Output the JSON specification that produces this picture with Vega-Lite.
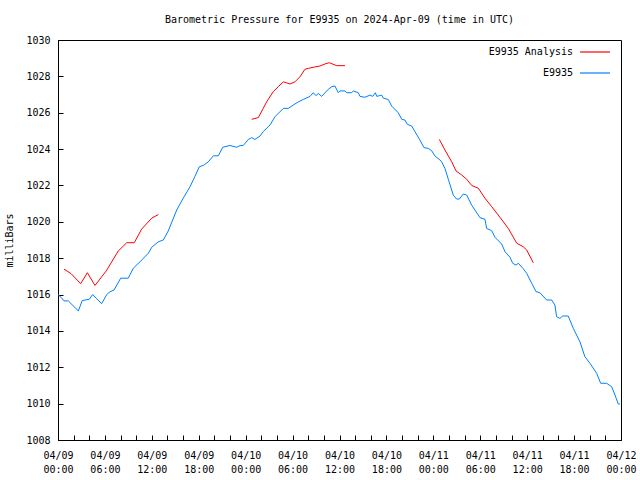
{
  "$schema": "https://vega.github.io/schema/vega-lite/v6.json",
  "autosize": {"type": "none"},
  "width": 563,
  "height": 400,
  "padding": {"left": 58, "top": 40, "right": 19, "bottom": 40},
  "background": "white",
  "config": {
    "font": "DejaVu Sans Mono",
    "view": {"stroke": "black", "strokeWidth": 1},
    "axis": {"labelFont": "DejaVu Sans Mono", "labelFontSize": 10, "labelColor": "black", "titleFont": "DejaVu Sans Mono", "titleFontSize": 10, "titleFontWeight": "normal", "titleColor": "black", "tickColor": "black", "domainColor": "black", "grid": false}
  },
  "title": {"text": "Barometric Pressure for E9935 on 2024-Apr-09 (time in UTC)", "font": "DejaVu Sans Mono", "fontSize": 10, "fontWeight": "normal", "color": "black", "anchor": "middle", "offset": 10},
  "data": {"values": [
    {"t": "2024-04-09T00:46:00Z", "p": 1017.4, "s": "E9935 Analysis", "g": "a1"},
    {"t": "2024-04-09T01:40:00Z", "p": 1017.15, "s": "E9935 Analysis", "g": "a1"},
    {"t": "2024-04-09T02:54:00Z", "p": 1016.6, "s": "E9935 Analysis", "g": "a1"},
    {"t": "2024-04-09T03:45:00Z", "p": 1017.2, "s": "E9935 Analysis", "g": "a1"},
    {"t": "2024-04-09T04:44:00Z", "p": 1016.5, "s": "E9935 Analysis", "g": "a1"},
    {"t": "2024-04-09T06:10:00Z", "p": 1017.3, "s": "E9935 Analysis", "g": "a1"},
    {"t": "2024-04-09T07:43:00Z", "p": 1018.4, "s": "E9935 Analysis", "g": "a1"},
    {"t": "2024-04-09T08:47:00Z", "p": 1018.85, "s": "E9935 Analysis", "g": "a1"},
    {"t": "2024-04-09T09:45:00Z", "p": 1018.85, "s": "E9935 Analysis", "g": "a1"},
    {"t": "2024-04-09T10:42:00Z", "p": 1019.6, "s": "E9935 Analysis", "g": "a1"},
    {"t": "2024-04-09T11:59:00Z", "p": 1020.2, "s": "E9935 Analysis", "g": "a1"},
    {"t": "2024-04-09T12:50:00Z", "p": 1020.4, "s": "E9935 Analysis", "g": "a1"},
    {"t": "2024-04-10T00:46:00Z", "p": 1025.64, "s": "E9935 Analysis", "g": "a2"},
    {"t": "2024-04-10T01:37:00Z", "p": 1025.73, "s": "E9935 Analysis", "g": "a2"},
    {"t": "2024-04-10T02:15:00Z", "p": 1026.24, "s": "E9935 Analysis", "g": "a2"},
    {"t": "2024-04-10T02:41:00Z", "p": 1026.6, "s": "E9935 Analysis", "g": "a2"},
    {"t": "2024-04-10T03:32:00Z", "p": 1027.16, "s": "E9935 Analysis", "g": "a2"},
    {"t": "2024-04-10T04:10:00Z", "p": 1027.43, "s": "E9935 Analysis", "g": "a2"},
    {"t": "2024-04-10T04:49:00Z", "p": 1027.7, "s": "E9935 Analysis", "g": "a2"},
    {"t": "2024-04-10T05:40:00Z", "p": 1027.58, "s": "E9935 Analysis", "g": "a2"},
    {"t": "2024-04-10T06:18:00Z", "p": 1027.7, "s": "E9935 Analysis", "g": "a2"},
    {"t": "2024-04-10T06:57:00Z", "p": 1027.98, "s": "E9935 Analysis", "g": "a2"},
    {"t": "2024-04-10T07:35:00Z", "p": 1028.39, "s": "E9935 Analysis", "g": "a2"},
    {"t": "2024-04-10T08:01:00Z", "p": 1028.44, "s": "E9935 Analysis", "g": "a2"},
    {"t": "2024-04-10T08:39:00Z", "p": 1028.5, "s": "E9935 Analysis", "g": "a2"},
    {"t": "2024-04-10T09:30:00Z", "p": 1028.57, "s": "E9935 Analysis", "g": "a2"},
    {"t": "2024-04-10T10:08:00Z", "p": 1028.68, "s": "E9935 Analysis", "g": "a2"},
    {"t": "2024-04-10T10:41:00Z", "p": 1028.75, "s": "E9935 Analysis", "g": "a2"},
    {"t": "2024-04-10T11:38:00Z", "p": 1028.59, "s": "E9935 Analysis", "g": "a2"},
    {"t": "2024-04-10T12:42:00Z", "p": 1028.59, "s": "E9935 Analysis", "g": "a2"},
    {"t": "2024-04-11T00:46:00Z", "p": 1024.53, "s": "E9935 Analysis", "g": "a3"},
    {"t": "2024-04-11T01:29:00Z", "p": 1023.95, "s": "E9935 Analysis", "g": "a3"},
    {"t": "2024-04-11T02:21:00Z", "p": 1023.3, "s": "E9935 Analysis", "g": "a3"},
    {"t": "2024-04-11T02:54:00Z", "p": 1022.8, "s": "E9935 Analysis", "g": "a3"},
    {"t": "2024-04-11T03:37:00Z", "p": 1022.58, "s": "E9935 Analysis", "g": "a3"},
    {"t": "2024-04-11T04:16:00Z", "p": 1022.34, "s": "E9935 Analysis", "g": "a3"},
    {"t": "2024-04-11T04:54:00Z", "p": 1022.0, "s": "E9935 Analysis", "g": "a3"},
    {"t": "2024-04-11T05:45:00Z", "p": 1021.85, "s": "E9935 Analysis", "g": "a3"},
    {"t": "2024-04-11T06:36:00Z", "p": 1021.3, "s": "E9935 Analysis", "g": "a3"},
    {"t": "2024-04-11T07:28:00Z", "p": 1020.83, "s": "E9935 Analysis", "g": "a3"},
    {"t": "2024-04-11T08:31:00Z", "p": 1020.25, "s": "E9935 Analysis", "g": "a3"},
    {"t": "2024-04-11T09:35:00Z", "p": 1019.64, "s": "E9935 Analysis", "g": "a3"},
    {"t": "2024-04-11T10:40:00Z", "p": 1018.82, "s": "E9935 Analysis", "g": "a3"},
    {"t": "2024-04-11T11:30:00Z", "p": 1018.63, "s": "E9935 Analysis", "g": "a3"},
    {"t": "2024-04-11T11:56:00Z", "p": 1018.45, "s": "E9935 Analysis", "g": "a3"},
    {"t": "2024-04-11T12:47:00Z", "p": 1017.75, "s": "E9935 Analysis", "g": "a3"},
    {"t": "2024-04-09T00:00:00Z", "p": 1016.0, "s": "E9935", "g": "b"},
    {"t": "2024-04-09T00:23:00Z", "p": 1015.85, "s": "E9935", "g": "b"},
    {"t": "2024-04-09T00:46:00Z", "p": 1015.65, "s": "E9935", "g": "b"},
    {"t": "2024-04-09T01:19:00Z", "p": 1015.65, "s": "E9935", "g": "b"},
    {"t": "2024-04-09T02:36:00Z", "p": 1015.1, "s": "E9935", "g": "b"},
    {"t": "2024-04-09T03:06:00Z", "p": 1015.67, "s": "E9935", "g": "b"},
    {"t": "2024-04-09T04:00:00Z", "p": 1015.74, "s": "E9935", "g": "b"},
    {"t": "2024-04-09T04:26:00Z", "p": 1016.0, "s": "E9935", "g": "b"},
    {"t": "2024-04-09T04:52:00Z", "p": 1015.8, "s": "E9935", "g": "b"},
    {"t": "2024-04-09T05:35:00Z", "p": 1015.5, "s": "E9935", "g": "b"},
    {"t": "2024-04-09T06:14:00Z", "p": 1016.0, "s": "E9935", "g": "b"},
    {"t": "2024-04-09T06:39:00Z", "p": 1016.15, "s": "E9935", "g": "b"},
    {"t": "2024-04-09T07:10:00Z", "p": 1016.25, "s": "E9935", "g": "b"},
    {"t": "2024-04-09T08:01:00Z", "p": 1016.9, "s": "E9935", "g": "b"},
    {"t": "2024-04-09T08:59:00Z", "p": 1016.9, "s": "E9935", "g": "b"},
    {"t": "2024-04-09T09:38:00Z", "p": 1017.45, "s": "E9935", "g": "b"},
    {"t": "2024-04-09T10:29:00Z", "p": 1017.8, "s": "E9935", "g": "b"},
    {"t": "2024-04-09T11:33:00Z", "p": 1018.27, "s": "E9935", "g": "b"},
    {"t": "2024-04-09T11:59:00Z", "p": 1018.6, "s": "E9935", "g": "b"},
    {"t": "2024-04-09T12:50:00Z", "p": 1018.9, "s": "E9935", "g": "b"},
    {"t": "2024-04-09T13:28:00Z", "p": 1019.0, "s": "E9935", "g": "b"},
    {"t": "2024-04-09T14:06:00Z", "p": 1019.5, "s": "E9935", "g": "b"},
    {"t": "2024-04-09T15:11:00Z", "p": 1020.65, "s": "E9935", "g": "b"},
    {"t": "2024-04-09T16:01:00Z", "p": 1021.3, "s": "E9935", "g": "b"},
    {"t": "2024-04-09T16:53:00Z", "p": 1021.93, "s": "E9935", "g": "b"},
    {"t": "2024-04-09T17:31:00Z", "p": 1022.5, "s": "E9935", "g": "b"},
    {"t": "2024-04-09T18:04:00Z", "p": 1023.03, "s": "E9935", "g": "b"},
    {"t": "2024-04-09T18:35:00Z", "p": 1023.1, "s": "E9935", "g": "b"},
    {"t": "2024-04-09T19:13:00Z", "p": 1023.3, "s": "E9935", "g": "b"},
    {"t": "2024-04-09T19:52:00Z", "p": 1023.63, "s": "E9935", "g": "b"},
    {"t": "2024-04-09T20:30:00Z", "p": 1023.63, "s": "E9935", "g": "b"},
    {"t": "2024-04-09T21:04:00Z", "p": 1024.1, "s": "E9935", "g": "b"},
    {"t": "2024-04-09T22:00:00Z", "p": 1024.2, "s": "E9935", "g": "b"},
    {"t": "2024-04-09T22:51:00Z", "p": 1024.1, "s": "E9935", "g": "b"},
    {"t": "2024-04-09T23:16:00Z", "p": 1024.19, "s": "E9935", "g": "b"},
    {"t": "2024-04-09T23:42:00Z", "p": 1024.2, "s": "E9935", "g": "b"},
    {"t": "2024-04-10T00:20:00Z", "p": 1024.53, "s": "E9935", "g": "b"},
    {"t": "2024-04-10T00:46:00Z", "p": 1024.63, "s": "E9935", "g": "b"},
    {"t": "2024-04-10T01:11:00Z", "p": 1024.53, "s": "E9935", "g": "b"},
    {"t": "2024-04-10T01:50:00Z", "p": 1024.72, "s": "E9935", "g": "b"},
    {"t": "2024-04-10T02:15:00Z", "p": 1024.96, "s": "E9935", "g": "b"},
    {"t": "2024-04-10T03:07:00Z", "p": 1025.33, "s": "E9935", "g": "b"},
    {"t": "2024-04-10T03:45:00Z", "p": 1025.78, "s": "E9935", "g": "b"},
    {"t": "2024-04-10T04:49:00Z", "p": 1026.24, "s": "E9935", "g": "b"},
    {"t": "2024-04-10T05:27:00Z", "p": 1026.24, "s": "E9935", "g": "b"},
    {"t": "2024-04-10T06:05:00Z", "p": 1026.42, "s": "E9935", "g": "b"},
    {"t": "2024-04-10T06:44:00Z", "p": 1026.6, "s": "E9935", "g": "b"},
    {"t": "2024-04-10T07:22:00Z", "p": 1026.73, "s": "E9935", "g": "b"},
    {"t": "2024-04-10T08:14:00Z", "p": 1026.9, "s": "E9935", "g": "b"},
    {"t": "2024-04-10T08:39:00Z", "p": 1027.1, "s": "E9935", "g": "b"},
    {"t": "2024-04-10T08:59:00Z", "p": 1026.94, "s": "E9935", "g": "b"},
    {"t": "2024-04-10T09:17:00Z", "p": 1027.06, "s": "E9935", "g": "b"},
    {"t": "2024-04-10T09:43:00Z", "p": 1026.9, "s": "E9935", "g": "b"},
    {"t": "2024-04-10T10:34:00Z", "p": 1027.29, "s": "E9935", "g": "b"},
    {"t": "2024-04-10T11:00:00Z", "p": 1027.43, "s": "E9935", "g": "b"},
    {"t": "2024-04-10T11:25:00Z", "p": 1027.47, "s": "E9935", "g": "b"},
    {"t": "2024-04-10T11:51:00Z", "p": 1027.1, "s": "E9935", "g": "b"},
    {"t": "2024-04-10T12:04:00Z", "p": 1027.2, "s": "E9935", "g": "b"},
    {"t": "2024-04-10T12:42:00Z", "p": 1027.2, "s": "E9935", "g": "b"},
    {"t": "2024-04-10T12:55:00Z", "p": 1027.1, "s": "E9935", "g": "b"},
    {"t": "2024-04-10T13:33:00Z", "p": 1027.1, "s": "E9935", "g": "b"},
    {"t": "2024-04-10T13:46:00Z", "p": 1027.2, "s": "E9935", "g": "b"},
    {"t": "2024-04-10T14:24:00Z", "p": 1027.1, "s": "E9935", "g": "b"},
    {"t": "2024-04-10T14:37:00Z", "p": 1026.9, "s": "E9935", "g": "b"},
    {"t": "2024-04-10T15:15:00Z", "p": 1026.85, "s": "E9935", "g": "b"},
    {"t": "2024-04-10T15:54:00Z", "p": 1026.97, "s": "E9935", "g": "b"},
    {"t": "2024-04-10T16:15:00Z", "p": 1026.9, "s": "E9935", "g": "b"},
    {"t": "2024-04-10T16:35:00Z", "p": 1027.1, "s": "E9935", "g": "b"},
    {"t": "2024-04-10T16:46:00Z", "p": 1026.9, "s": "E9935", "g": "b"},
    {"t": "2024-04-10T17:24:00Z", "p": 1026.97, "s": "E9935", "g": "b"},
    {"t": "2024-04-10T17:36:00Z", "p": 1026.8, "s": "E9935", "g": "b"},
    {"t": "2024-04-10T18:14:00Z", "p": 1026.73, "s": "E9935", "g": "b"},
    {"t": "2024-04-10T18:40:00Z", "p": 1026.37, "s": "E9935", "g": "b"},
    {"t": "2024-04-10T19:31:00Z", "p": 1026.0, "s": "E9935", "g": "b"},
    {"t": "2024-04-10T19:57:00Z", "p": 1025.64, "s": "E9935", "g": "b"},
    {"t": "2024-04-10T20:22:00Z", "p": 1025.6, "s": "E9935", "g": "b"},
    {"t": "2024-04-10T20:40:00Z", "p": 1025.36, "s": "E9935", "g": "b"},
    {"t": "2024-04-10T21:14:00Z", "p": 1025.27, "s": "E9935", "g": "b"},
    {"t": "2024-04-10T21:39:00Z", "p": 1024.96, "s": "E9935", "g": "b"},
    {"t": "2024-04-10T22:17:00Z", "p": 1024.5, "s": "E9935", "g": "b"},
    {"t": "2024-04-10T22:48:00Z", "p": 1024.08, "s": "E9935", "g": "b"},
    {"t": "2024-04-10T23:21:00Z", "p": 1024.04, "s": "E9935", "g": "b"},
    {"t": "2024-04-10T23:47:00Z", "p": 1023.91, "s": "E9935", "g": "b"},
    {"t": "2024-04-11T00:13:00Z", "p": 1023.62, "s": "E9935", "g": "b"},
    {"t": "2024-04-11T00:51:00Z", "p": 1023.4, "s": "E9935", "g": "b"},
    {"t": "2024-04-11T01:04:00Z", "p": 1023.3, "s": "E9935", "g": "b"},
    {"t": "2024-04-11T01:29:00Z", "p": 1022.94, "s": "E9935", "g": "b"},
    {"t": "2024-04-11T01:55:00Z", "p": 1022.34, "s": "E9935", "g": "b"},
    {"t": "2024-04-11T02:33:00Z", "p": 1021.47, "s": "E9935", "g": "b"},
    {"t": "2024-04-11T02:59:00Z", "p": 1021.25, "s": "E9935", "g": "b"},
    {"t": "2024-04-11T03:19:00Z", "p": 1021.25, "s": "E9935", "g": "b"},
    {"t": "2024-04-11T03:50:00Z", "p": 1021.53, "s": "E9935", "g": "b"},
    {"t": "2024-04-11T04:16:00Z", "p": 1021.47, "s": "E9935", "g": "b"},
    {"t": "2024-04-11T04:54:00Z", "p": 1020.92, "s": "E9935", "g": "b"},
    {"t": "2024-04-11T05:19:00Z", "p": 1020.65, "s": "E9935", "g": "b"},
    {"t": "2024-04-11T05:58:00Z", "p": 1020.23, "s": "E9935", "g": "b"},
    {"t": "2024-04-11T06:36:00Z", "p": 1020.14, "s": "E9935", "g": "b"},
    {"t": "2024-04-11T06:49:00Z", "p": 1019.64, "s": "E9935", "g": "b"},
    {"t": "2024-04-11T07:28:00Z", "p": 1019.51, "s": "E9935", "g": "b"},
    {"t": "2024-04-11T07:53:00Z", "p": 1019.15, "s": "E9935", "g": "b"},
    {"t": "2024-04-11T08:44:00Z", "p": 1018.78, "s": "E9935", "g": "b"},
    {"t": "2024-04-11T09:10:00Z", "p": 1018.36, "s": "E9935", "g": "b"},
    {"t": "2024-04-11T09:48:00Z", "p": 1018.05, "s": "E9935", "g": "b"},
    {"t": "2024-04-11T10:09:00Z", "p": 1017.72, "s": "E9935", "g": "b"},
    {"t": "2024-04-11T10:34:00Z", "p": 1017.62, "s": "E9935", "g": "b"},
    {"t": "2024-04-11T10:52:00Z", "p": 1017.72, "s": "E9935", "g": "b"},
    {"t": "2024-04-11T11:30:00Z", "p": 1017.42, "s": "E9935", "g": "b"},
    {"t": "2024-04-11T11:56:00Z", "p": 1017.17, "s": "E9935", "g": "b"},
    {"t": "2024-04-11T12:35:00Z", "p": 1016.62, "s": "E9935", "g": "b"},
    {"t": "2024-04-11T13:08:00Z", "p": 1016.16, "s": "E9935", "g": "b"},
    {"t": "2024-04-11T13:38:00Z", "p": 1016.1, "s": "E9935", "g": "b"},
    {"t": "2024-04-11T14:29:00Z", "p": 1015.7, "s": "E9935", "g": "b"},
    {"t": "2024-04-11T15:08:00Z", "p": 1015.7, "s": "E9935", "g": "b"},
    {"t": "2024-04-11T15:33:00Z", "p": 1015.42, "s": "E9935", "g": "b"},
    {"t": "2024-04-11T15:46:00Z", "p": 1014.78, "s": "E9935", "g": "b"},
    {"t": "2024-04-11T16:11:00Z", "p": 1014.69, "s": "E9935", "g": "b"},
    {"t": "2024-04-11T16:32:00Z", "p": 1014.82, "s": "E9935", "g": "b"},
    {"t": "2024-04-11T17:15:00Z", "p": 1014.82, "s": "E9935", "g": "b"},
    {"t": "2024-04-11T17:54:00Z", "p": 1014.14, "s": "E9935", "g": "b"},
    {"t": "2024-04-11T18:45:00Z", "p": 1013.4, "s": "E9935", "g": "b"},
    {"t": "2024-04-11T19:23:00Z", "p": 1012.58, "s": "E9935", "g": "b"},
    {"t": "2024-04-11T20:02:00Z", "p": 1012.22, "s": "E9935", "g": "b"},
    {"t": "2024-04-11T20:53:00Z", "p": 1011.67, "s": "E9935", "g": "b"},
    {"t": "2024-04-11T21:24:00Z", "p": 1011.12, "s": "E9935", "g": "b"},
    {"t": "2024-04-11T22:10:00Z", "p": 1011.12, "s": "E9935", "g": "b"},
    {"t": "2024-04-11T22:48:00Z", "p": 1010.93, "s": "E9935", "g": "b"},
    {"t": "2024-04-11T23:14:00Z", "p": 1010.47, "s": "E9935", "g": "b"},
    {"t": "2024-04-11T23:39:00Z", "p": 1009.98, "s": "E9935", "g": "b"},
    {"t": "2024-04-11T23:52:00Z", "p": 1009.98, "s": "E9935", "g": "b"}
  ]},
  "mark": {"type": "line", "strokeWidth": 1, "interpolate": "linear"},
  "encoding": {
    "x": {"field": "t", "type": "temporal",
      "scale": {"type": "utc", "domain": [1712620800000, 1712880000000], "nice": false},
      "axis": {"title": null, "orient": "bottom",
        "values": [1712620800000, 1712628000000, 1712635200000, 1712642400000, 1712649600000, 1712656800000, 1712664000000, 1712671200000, 1712678400000, 1712685600000, 1712692800000, 1712700000000, 1712707200000, 1712714400000, 1712721600000, 1712728800000, 1712736000000, 1712743200000, 1712750400000, 1712757600000, 1712764800000, 1712772000000, 1712779200000, 1712786400000, 1712793600000, 1712800800000, 1712808000000, 1712815200000, 1712822400000, 1712829600000, 1712836800000, 1712844000000, 1712851200000, 1712858400000, 1712865600000, 1712872800000, 1712880000000],
        "tickSize": -5, "labelPadding": 15, "labelExpr": "utchours(datum.value) % 6 == 0 ? [utcFormat(datum.value, '%m/%d'), utcFormat(datum.value, '%H:%M')] : ''", "labelLineHeight": 14, "labelOverlap": false, "labelFlush": false, "labelBound": false, "labelBaseline": "top"}},
    "y": {"field": "p", "type": "quantitative",
      "scale": {"domain": [1008, 1030], "nice": false, "zero": false},
      "axis": {"title": "milliBars", "orient": "left", "values": [1008, 1010, 1012, 1014, 1016, 1018, 1020, 1022, 1024, 1026, 1028, 1030], "format": "d", "tickSize": -5, "labelPadding": 13, "titlePadding": 11}},
    "color": {"field": "s", "type": "nominal",
      "scale": {"domain": ["E9935 Analysis", "E9935"], "range": ["#ff0000", "#0080ff"]},
      "legend": {"title": null, "orient": "none", "legendX": 521, "legendY": -4, "symbolType": "stroke", "symbolSize": 900, "symbolStrokeWidth": 1.2, "labelFont": "DejaVu Sans Mono", "labelFontSize": 10, "labelColor": "black", "labelAlign": "right", "labelOffset": -38, "rowPadding": -30, "padding": 0}},
    "detail": {"field": "g", "type": "nominal"}
  }
}
